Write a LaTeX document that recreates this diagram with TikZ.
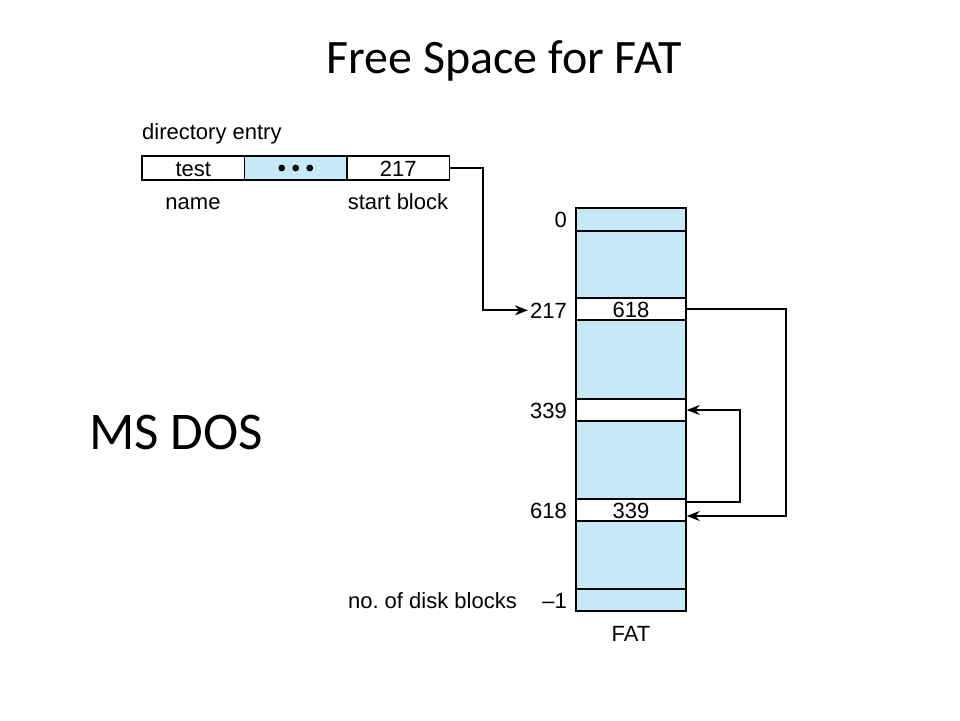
\documentclass[tikz,border=0pt]{standalone}
\usepackage{fontspec}
\setmainfont{Liberation Sans}
\newfontfamily\slidefont{Carlito}
\usetikzlibrary{arrows.meta,calc}
\definecolor{fatblue}{RGB}{198,233,248}
\begin{document}
\frenchspacing
\begin{tikzpicture}[x=1pt,y=-1pt,
  lbl/.style={font=\fontsize{22}{24}\selectfont, inner sep=2pt},
  cell/.style={draw, line width=1.4pt, inner sep=0pt, minimum width=110pt, text height=16pt, text depth=0pt, font=\fontsize{22}{24}\selectfont},
  dcell/.style={draw, line width=1.4pt, inner sep=0pt, minimum width=102.5pt, minimum height=24pt, text height=16pt, text depth=0pt, font=\fontsize{22}{24}\selectfont},
  link/.style={line width=1.8pt, -{Stealth[length=13pt,width=10pt]}}]
\useasboundingbox (0,0) rectangle (960,720);
% titles
\node[font=\slidefont\fontsize{48}{52}\selectfont, anchor=base] (title) at (504,73) {Free Space for FAT};
\node[font=\slidefont\fontsize{53}{56}\selectfont, anchor=base west, inner sep=0pt] (msdos) at (89,449) {MS DOS};
% directory entry
\node[lbl, anchor=base west, inner sep=0pt] (dirent) at (142,139) {directory entry};
\node[dcell, fill=white] (c1) at (193.25,168) {test};
\node[dcell, fill=fatblue] (c2) at (295.75,168) {};
\node[dcell, fill=white] (c3) at (398.25,168) {217};
\foreach \dx in {-14,0,14} \fill ($(c2.center)+(\dx,0)$) circle (3.4pt);
\node[lbl, anchor=base] (name) at (193,209) {name};
\node[lbl, anchor=base] (start) at (398,209) {start block};
% FAT column
\node[cell, fill=fatblue, minimum height=23pt] (r0) at (631,219.5) {};
\node[cell, fill=fatblue, minimum height=67pt] (rA) at (631,264.5) {};
\node[cell, fill=white, minimum height=22pt] (r217) at (631,309) {618};
\node[cell, fill=fatblue, minimum height=79pt] (rB) at (631,359.5) {};
\node[cell, fill=white, minimum height=22pt] (r339) at (631,410) {};
\node[cell, fill=fatblue, minimum height=78pt] (rC) at (631,460) {};
\node[cell, fill=white, minimum height=22pt] (r618) at (631,510) {339};
\node[cell, fill=fatblue, minimum height=68pt] (rD) at (631,555) {};
\node[cell, fill=fatblue, minimum height=22pt] (rm1) at (631,600) {};
\node[lbl, anchor=base] (fat) at (631,641) {FAT};
% left labels
\node[lbl, anchor=base east] (n0) at (569,227) {0};
\node[lbl, anchor=base east] (n217) at (569,318) {217};
\node[lbl, anchor=base east] (n339) at (569,418) {339};
\node[lbl, anchor=base east] (n618) at (569,518) {618};
\node[lbl, anchor=base east] (nm1) at (569,608) {–1};
\node[lbl, anchor=base east] (ndisk) at (519,608) {no. of disk blocks};
% connectors
\draw[link] (c3.east) -- ++(33,0) |- (n217.west);
\draw[link] (r217.east) -- ++(99,0) |- ([yshift=-6pt]r618.east);
\draw[link] ([yshift=8pt]r618.east) -- ++(53,0) |- (r339.east);
\end{tikzpicture}
\end{document}
